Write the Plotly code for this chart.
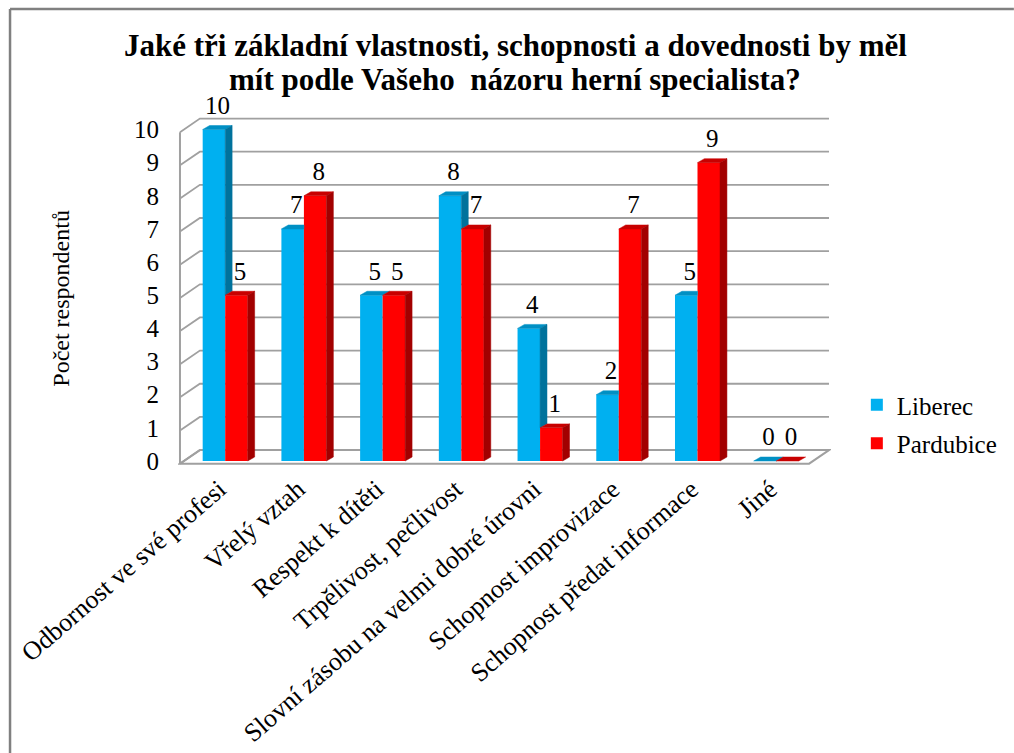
import plotly.graph_objects as go

# ---------------- data ----------------
categories = [
    "Odbornost ve své profesi",
    "Vřelý vztah",
    "Respekt k dítěti",
    "Trpělivost, pečlivost",
    "Slovní zásobu na velmi dobré úrovni",
    "Schopnost improvizace",
    "Schopnost předat informace",
    "Jiné",
]
liberec = [10, 7, 5, 8, 4, 2, 5, 0]
pardubice = [5, 8, 5, 7, 1, 7, 9, 0]
y_ticks = list(range(0, 11))
series_names = ["Liberec", "Pardubice"]
title_lines = ["Jaké tři základní vlastnosti, schopnosti a dovednosti by měl",
               "mít podle Vašeho  názoru herní specialista?"]
y_title = "Počet respondentů"

# ---------------- style ----------------
FONT = "Liberation Serif"
BLUE, BLUE_SIDE, BLUE_TOP = "#00B0F0", "#00729C", "#0090C4"
RED, RED_SIDE, RED_TOP = "#FF0000", "#A20000", "#C80000"
GRID = "#A0A0A0"

ML, MR, MT, MB = 178, 179, 104, 285
FW, FH = 1014, 753
PW, PH = FW - ML - MR, FH - MT - MB


def paper_x(px):
    return (px - ML) / PW


def paper_y(py):
    return (FH - MB - py) / PH


BAR_W = 0.286      # bar width (category units)
BAR_DX = 0.088     # 3-D depth of bars
BAR_DY = 0.12
WALL_X = -0.5745   # front edge of the side wall
WALL_DX = 0.2525   # depth of the back wall
WALL_DY = 0.33
WALL_SHIFT = -0.08
FLOOR_RIGHT = 7.418
X_RANGE = [-0.5997, 7.696]
Y_RANGE = [-0.211, 10.769]
LABEL_DY = 0.66

fig = go.Figure()
xs = list(range(len(categories)))

fig.add_trace(go.Bar(x=xs, y=liberec, name=series_names[0], width=BAR_W, offset=-BAR_W,
                     marker=dict(color=BLUE, line=dict(width=0)), legendgroup="a"))
fig.add_trace(go.Bar(x=xs, y=pardubice, name=series_names[1], width=BAR_W, offset=0,
                     marker=dict(color=RED, line=dict(width=0)), legendgroup="b"))

# value labels
fig.add_trace(go.Scatter(
    x=[i - BAR_W / 2 + BAR_DX / 2 for i in xs] + [i + BAR_W / 2 + BAR_DX / 2 for i in xs],
    y=[v + LABEL_DY for v in liberec] + [v + LABEL_DY for v in pardubice],
    text=[str(v) for v in liberec] + [str(v) for v in pardubice],
    mode="text", textposition="middle center",
    textfont=dict(family=FONT, size=25, color="black"),
    showlegend=False, cliponaxis=False, hoverinfo="skip"))

shapes = []


def poly(pts, fill, layer="above"):
    d = "M " + " L ".join(f"{x},{y}" for x, y in pts) + " Z"
    return dict(type="path", path=d, xref="x", yref="y", fillcolor=fill,
                line=dict(color=fill, width=0.5), layer=layer)


# floor
shapes.append(dict(type="path", xref="x", yref="y", layer="below",
                   path=(f"M {WALL_X},{WALL_SHIFT} L {FLOOR_RIGHT},{WALL_SHIFT} "
                         f"L {FLOOR_RIGHT + WALL_DX},{WALL_DY} L {WALL_X + WALL_DX},{WALL_DY} Z"),
                   fillcolor="white", line=dict(color=GRID, width=2)))
# back-wall grid lines with side-wall diagonals
for v in y_ticks:
    shapes.append(dict(type="path", xref="x", yref="y", layer="below",
                       path=(f"M {WALL_X},{v + WALL_SHIFT} L {WALL_X + WALL_DX},{v + WALL_DY} "
                             f"L {FLOOR_RIGHT + WALL_DX},{v + WALL_DY}"),
                       line=dict(color=GRID, width=1.8)))
# front edge of side wall
shapes.append(dict(type="line", xref="x", yref="y", layer="below",
                   x0=WALL_X, x1=WALL_X, y0=WALL_SHIFT, y1=y_ticks[-1] + WALL_SHIFT,
                   line=dict(color=GRID, width=2)))

# 3-D faces of bars
for i, (b, r) in zip(xs, zip(liberec, pardubice)):
    bl, br = i - BAR_W, i
    rl, rr = i, i + BAR_W
    if b < r:
        shapes.append(poly([(bl, b), (bl + BAR_DX, b + BAR_DY), (br, b + BAR_DY), (br, b)], BLUE_TOP))
    else:
        shapes.append(poly([(bl, b), (bl + BAR_DX, b + BAR_DY), (br + BAR_DX, b + BAR_DY), (br, b)], BLUE_TOP))
    if b > r:
        shapes.append(poly([(br, r), (br + BAR_DX, r + BAR_DY), (br + BAR_DX, b + BAR_DY), (br, b)], BLUE_SIDE))
    shapes.append(poly([(rl, r), (rl + BAR_DX, r + BAR_DY), (rr + BAR_DX, r + BAR_DY), (rr, r)], RED_TOP))
    if r > 0:
        shapes.append(poly([(rr, 0), (rr + BAR_DX, BAR_DY), (rr + BAR_DX, r + BAR_DY), (rr, r)], RED_SIDE))

# outer frame (left and top edges visible)
shapes.append(dict(type="line", xref="paper", yref="paper",
                   x0=paper_x(9), x1=paper_x(9), y0=paper_y(FH + 5), y1=paper_y(9),
                   line=dict(color="#808080", width=2.5), layer="below"))
shapes.append(dict(type="line", xref="paper", yref="paper",
                   x0=paper_x(9), x1=paper_x(FW + 5), y0=paper_y(9), y1=paper_y(9),
                   line=dict(color="#808080", width=2.5), layer="below"))

annotations = [
    dict(text=f"<b>{title_lines[0]}</b>", x=paper_x(518), y=paper_y(46), xref="paper", yref="paper",
         showarrow=False, xanchor="center", yanchor="middle",
         font=dict(family=FONT, size=31, color="black")),
    dict(text=f"<b>{title_lines[1]}</b>", x=paper_x(517), y=paper_y(79), xref="paper", yref="paper",
         showarrow=False, xanchor="center", yanchor="middle",
         font=dict(family=FONT, size=31, color="black")),
    dict(text=y_title, x=paper_x(60), y=paper_y(298), xref="paper", yref="paper",
         textangle=-90, showarrow=False, xanchor="center", yanchor="middle",
         font=dict(family=FONT, size=24, color="black")),
]

fig.update_layout(
    width=FW, height=FH, autosize=False,
    margin=dict(l=ML, r=MR, t=MT, b=MB),
    paper_bgcolor="white", plot_bgcolor="white",
    barmode="overlay",
    xaxis=dict(range=X_RANGE, tickmode="array", tickvals=xs, ticktext=categories,
               tickangle=-41, showgrid=False, zeroline=False, showline=False, ticks="",
               ticklabelshift=-6,
               tickfont=dict(family=FONT, size=26, color="black"), automargin=False),
    yaxis=dict(range=Y_RANGE, tickmode="array", tickvals=y_ticks, showgrid=False,
               zeroline=False, showline=False, ticks="", ticklabelstandoff=18,
               tickfont=dict(family=FONT, size=25, color="black"), automargin=False),
    legend=dict(x=paper_x(861), xanchor="left", y=paper_y(382), yanchor="top",
                font=dict(family=FONT, size=25, color="black"),
                traceorder="grouped", tracegroupgap=3, bgcolor="rgba(0,0,0,0)"),
    shapes=shapes,
    annotations=annotations,
)

fig.write_html("out.html")
